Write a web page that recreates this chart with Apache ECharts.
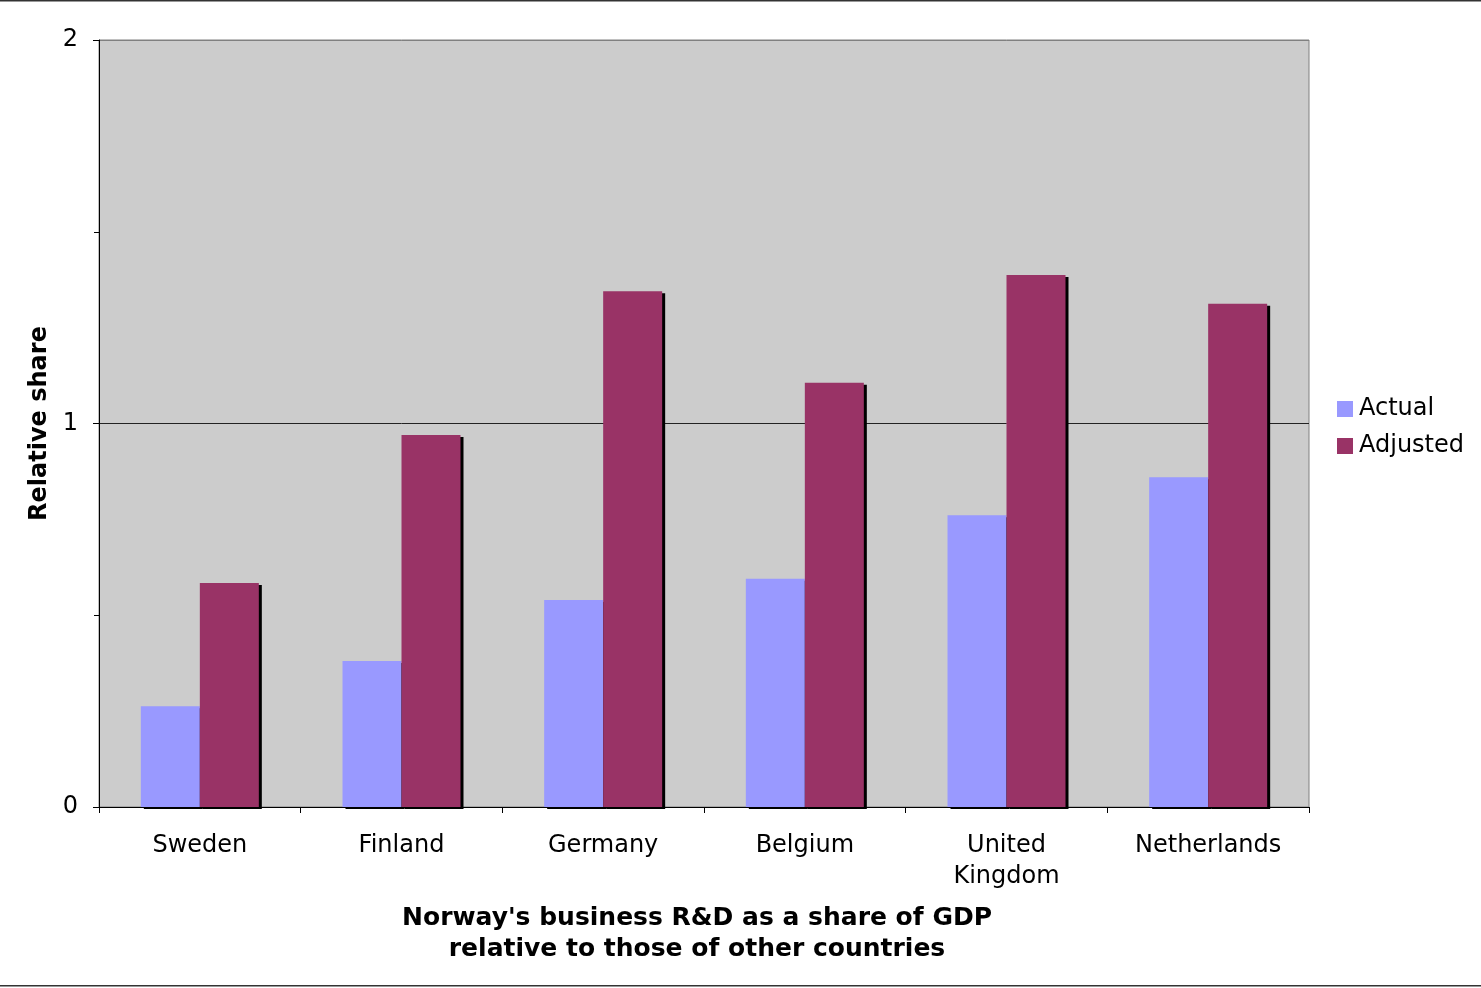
<!DOCTYPE html>
<html>
<head>
<meta charset="utf-8">
<script src="https://cdn.jsdelivr.net/npm/echarts@6/dist/echarts.min.js"></script>
<style>
html,body{margin:0;padding:0;background:#fff;}
#chart{width:1481px;height:988px;}
</style>
</head>
<body>
<div id="chart"></div>
<script>
const categories = ['Sweden', 'Finland', 'Germany', 'Belgium', 'United\nKingdom', 'Netherlands'];
const actual = [0.263, 0.381, 0.540, 0.595, 0.761, 0.860];
const adjusted = [0.584, 0.970, 1.345, 1.106, 1.387, 1.312];
const yTicks = [0, 1, 2];
const seriesNames = ['Actual', 'Adjusted'];
const xTitle = "Norway's business R&D as a share of GDP\nrelative to those of other countries";
const yTitle = 'Relative share';

const FONT = 'DejaVu Sans';
const chart = echarts.init(document.getElementById('chart'), null, {renderer: 'canvas'});
chart.setOption({
  backgroundColor: '#ffffff',
  animation: false,
  textStyle: {fontFamily: FONT, color: '#000'},
  grid: {left: 99, right: 172, top: 40, bottom: 181, show: true, backgroundColor: '#cccccc', borderColor: '#808080', borderWidth: 1},
  legend: {
    orient: 'vertical', left: 1337, top: 397, padding: 0,
    itemWidth: 16, itemHeight: 16, itemGap: 13,
    textStyle: {fontFamily: FONT, fontSize: 24, color: '#000', padding: [0, 0, 0, 1]},
    icon: 'rect',
    data: seriesNames
  },
  xAxis: {
    type: 'category',
    data: categories,
    axisLine: {lineStyle: {color: '#000', width: 1}},
    axisTick: {show: true, length: 6, lineStyle: {color: '#000'}},
    axisLabel: {fontFamily: FONT, fontSize: 24, color: '#000', margin: 23, lineHeight: 31, interval: 0},
    splitLine: {show: false}
  },
  yAxis: {
    type: 'value', min: yTicks[0], max: yTicks[yTicks.length - 1], interval: 1,
    name: yTitle, nameLocation: 'middle', nameGap: 44,
    nameTextStyle: {fontFamily: FONT, fontSize: 24, fontWeight: 'bold', color: '#000'},
    axisLine: {show: true, lineStyle: {color: '#000', width: 1}},
    axisTick: {show: true, length: 6, lineStyle: {color: '#000'}},
    minorTick: {show: true, splitNumber: 2, length: 5, lineStyle: {color: '#000'}},
    axisLabel: {fontFamily: FONT, fontSize: 24, color: '#000', margin: 21},
    splitLine: {show: true, lineStyle: {color: ['#000', '#222', '#808080'], width: 1}}
  },
  series: [
    {
      name: seriesNames[0], type: 'bar', data: actual, barWidth: 59, barGap: '0%',
      itemStyle: {color: '#9999ff', shadowColor: '#000', shadowOffsetX: 3, shadowOffsetY: 2, shadowBlur: 0}
    },
    {
      name: seriesNames[1], type: 'bar', data: adjusted, barWidth: 59, barGap: '0%',
      itemStyle: {color: '#993366', shadowColor: '#000', shadowOffsetX: 3, shadowOffsetY: 2, shadowBlur: 0}
    }
  ],
  graphic: [
    {type: 'rect', shape: {x: 0, y: 0, width: 1481, height: 1.5}, style: {fill: '#333'}, silent: true},
    {type: 'rect', shape: {x: 0, y: 985, width: 1481, height: 1.5}, style: {fill: '#333'}, silent: true},
    {type: 'text', x: 697, y: 934, style: {text: xTitle, font: 'bold 25px "DejaVu Sans"', fill: '#000', align: 'center', verticalAlign: 'middle', lineHeight: 31}, silent: true}
  ]
});
</script>
</body>
</html>
